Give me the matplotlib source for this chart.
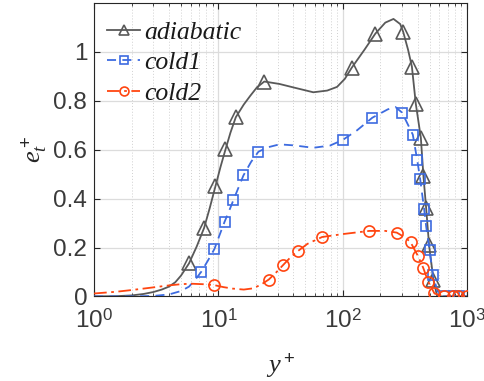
import math
import matplotlib
matplotlib.use("Agg")
import matplotlib.pyplot as plt
from matplotlib.ticker import LogLocator, FixedLocator, FuncFormatter, NullFormatter

plt.rcParams['mathtext.fontset'] = 'custom'
plt.rcParams['mathtext.rm'] = 'Liberation Sans'
plt.rcParams['mathtext.it'] = 'Liberation Serif:italic'
plt.rcParams['mathtext.sf'] = 'Liberation Sans'
plt.rcParams['font.family'] = ['Liberation Sans', 'DejaVu Sans']

# ---- data ----
adia_x = [1.0, 1.5, 2.0, 2.5, 3.0, 3.5, 4.0, 4.5, 5.0, 5.8, 6.7, 7.67, 8.5, 9.47, 10.4,
          11.4, 12.5, 13.8, 16.0, 18.0, 20.4, 23.4, 31, 40, 58, 75, 90, 104, 118, 150,
          183, 220, 256, 290, 306, 335, 360, 387, 425, 446, 469, 495, 537, 575, 700, 1000]
adia_y = [0.0, 0.001, 0.004, 0.010, 0.018, 0.028, 0.040, 0.058, 0.085, 0.135, 0.205, 0.280,
          0.360, 0.451, 0.530, 0.601, 0.670, 0.733, 0.785, 0.820, 0.855, 0.879, 0.869, 0.855,
          0.835, 0.842, 0.857, 0.890, 0.935, 1.010, 1.075, 1.120, 1.135, 1.114, 1.083, 1.010,
          0.940, 0.788, 0.649, 0.491, 0.360, 0.209, 0.067, 0.0, 0.0, 0.0]
adia_mk = [5.8, 7.67, 9.47, 11.4, 13.8, 23.4, 118, 183, 306, 360, 387, 425, 446, 469, 495, 537]

cold1_x = [1.0, 2.0, 3.0, 4.0, 5.0, 5.8, 6.5, 7.26, 8.2, 9.29, 10.2, 11.2, 12.2, 13.2, 14.5,
           15.9, 18.3, 21.0, 25, 31, 40, 58, 79, 100, 130, 173, 230, 265, 300, 366, 397,
           419, 452, 469, 499, 531, 580, 654, 790, 860, 1000]
cold1_y = [0.0, 0.0, 0.002, 0.008, 0.022, 0.040, 0.068, 0.100, 0.145, 0.194, 0.250, 0.305,
           0.350, 0.394, 0.445, 0.495, 0.550, 0.592, 0.610, 0.622, 0.618, 0.608, 0.617, 0.640,
           0.679, 0.731, 0.765, 0.775, 0.752, 0.662, 0.559, 0.482, 0.356, 0.286, 0.190, 0.087,
           0.020, 0.0, 0.0, 0.0, 0.0]
cold1_mk = [7.26, 9.29, 11.2, 13.2, 15.9, 21.0, 100, 173, 300, 366, 397, 419, 452, 469, 499,
            531, 654, 790, 860]

cold2_x = [1.0, 1.5, 2.0, 3.0, 4.0, 5.0, 6.0, 7.5, 9.29, 11, 13, 16, 19, 22, 25.4, 29, 33.1,
           38, 43.7, 52, 68.2, 100, 164, 220, 272, 320, 351, 402, 444, 487, 547, 654, 770,
           851, 1000]
cold2_y = [0.012, 0.019, 0.026, 0.037, 0.045, 0.050, 0.052, 0.050, 0.046, 0.038, 0.032, 0.028,
           0.033, 0.048, 0.069, 0.097, 0.128, 0.160, 0.186, 0.215, 0.243, 0.255, 0.268, 0.268,
           0.261, 0.240, 0.222, 0.166, 0.117, 0.060, 0.012, 0.0, 0.0, 0.0, 0.0]
cold2_mk = [9.29, 25.4, 33.1, 43.7, 68.2, 164, 272, 351, 402, 444, 487, 547, 654, 770, 851, 1000]

labels = ['adiabatic', 'cold1', 'cold2']
colors = ['#595959', '#3d6be0', '#ff4510']
y_ticks = [0, 0.2, 0.4, 0.6, 0.8, 1.0]
y_tick_labels = ['0', '0.2', '0.4', '0.6', '0.8', '1']

fig = plt.figure(figsize=(4.85, 3.81), dpi=100)
ax = fig.add_axes([0.194, 0.222, 0.769, 0.770])

series = [(adia_x, adia_y, adia_mk, '-', '^', 9.5),
          (cold1_x, cold1_y, cold1_mk, (0, (5, 3.5)), 's', 6.5),
          (cold2_x, cold2_y, cold2_mk, (0, (7, 2.5, 1.5, 2.5)), 'o', 8)]
for (xs, ys, mk, ls, m, ms), lab, c in zip(series, labels, colors):
    idx = [xs.index(v) for v in mk]
    ax.plot(xs, ys, linestyle=ls, color=c, lw=1.3, marker=m, markersize=ms,
            markerfacecolor='none', markeredgecolor=c, markeredgewidth=1.2,
            markevery=idx, label=lab, zorder=3)

ax.set_xscale('log')
ax.set_xlim(1, 1000)
ax.set_ylim(0, 1.2)
ax.yaxis.set_major_locator(FixedLocator(y_ticks))
ax.set_yticklabels(y_tick_labels)
ax.xaxis.set_major_locator(LogLocator(base=10, numticks=10))
ax.xaxis.set_minor_locator(LogLocator(base=10, subs=range(2, 10), numticks=20))
ax.xaxis.set_minor_formatter(NullFormatter())
ax.xaxis.set_major_formatter(FuncFormatter(lambda v, p: r'$10^{%d}$' % round(math.log10(v))))

ax.grid(True, which='major', color='#dcdcdc', lw=0.9, zorder=0)
ax.grid(True, which='minor', axis='x', color='#d0d0d0', lw=0.7, linestyle=(0, (1, 2)), zorder=0)
ax.set_axisbelow(True)

ax.tick_params(which='both', direction='in', top=True, right=True, colors='#262626',
               labelcolor='#3a3a3a', labelsize=17.5)
ax.tick_params(which='major', length=4, width=0.8)
ax.tick_params(which='minor', length=2.5, width=0.6)
ax.tick_params(axis='x', pad=9)
ax.tick_params(axis='y', pad=5)
for s in ax.spines.values():
    s.set_color('#262626')
    s.set_linewidth(0.8)

ax.set_xlabel(r'$y^+$', fontsize=19, color='#262626', labelpad=13)
ax.set_ylabel(r'$e_t^+$', fontsize=19, color='#262626', labelpad=3)

leg = ax.legend(loc='upper left', bbox_to_anchor=(0, 0.982), frameon=False,
                handlelength=1.29, handletextpad=0.16, markerscale=0.8,
                borderaxespad=0.0, borderpad=0.5, labelspacing=0.28,
                prop={'family': 'Liberation Serif', 'style': 'italic', 'size': 18.5})
for t in leg.get_texts():
    t.set_color('#1a1a1a')

fig.savefig('out.png', dpi=100)
